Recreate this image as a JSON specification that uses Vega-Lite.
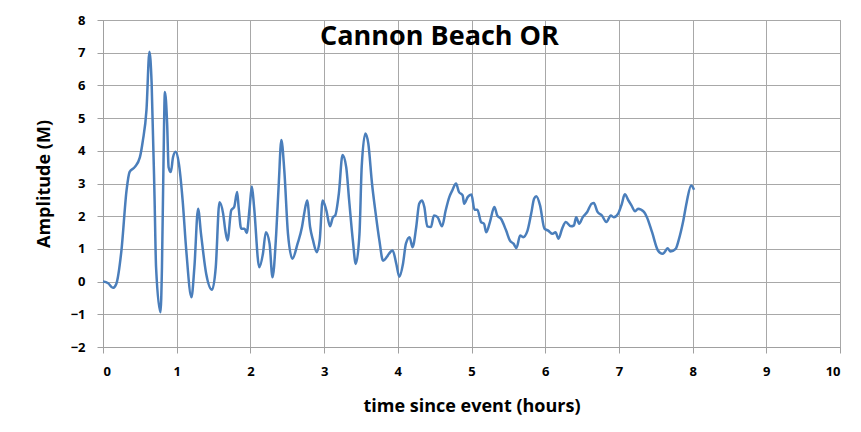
{
  "$schema": "https://vega.github.io/schema/vega-lite/v6.json",
  "width": 737,
  "height": 327,
  "autosize": {"type": "none"},
  "padding": {"left": 103, "top": 20, "right": 21, "bottom": 85},
  "background": "white",
  "title": {
    "text": "Cannon Beach OR",
    "font": "Open Sans",
    "fontSize": 27,
    "fontWeight": "bold",
    "color": "#000000",
    "anchor": "middle",
    "dx": -32,
    "offset": -37,
    "baseline": "top"
  },
  "data": {"values": [
    {"t":0,"a":0},{"t":0.07,"a":-0.05},{"t":0.135,"a":-0.19},{"t":0.18,"a":-0.07},{"t":0.25,"a":0.95},
    {"t":0.32,"a":2.8},{"t":0.36,"a":3.35},{"t":0.43,"a":3.5},{"t":0.5,"a":3.8},{"t":0.54,"a":4.3},
    {"t":0.59,"a":5.25},{"t":0.63,"a":7.03},{"t":0.66,"a":6.06},{"t":0.7,"a":2.5},{"t":0.72,"a":0.44},
    {"t":0.78,"a":-0.94},{"t":0.8,"a":0.44},{"t":0.82,"a":3.5},{"t":0.84,"a":5.8},{"t":0.87,"a":4.84},
    {"t":0.89,"a":3.5},{"t":0.92,"a":3.35},{"t":0.95,"a":3.8},{"t":0.985,"a":3.97},{"t":1.03,"a":3.6},
    {"t":1.08,"a":2.5},{"t":1.13,"a":0.95},{"t":1.2,"a":-0.48},{"t":1.24,"a":0.44},{"t":1.29,"a":2.23},
    {"t":1.33,"a":1.46},{"t":1.4,"a":0.24},{"t":1.48,"a":-0.25},{"t":1.53,"a":0.44},{"t":1.58,"a":2.43},
    {"t":1.63,"a":2.08},{"t":1.66,"a":1.56},{"t":1.69,"a":1.26},{"t":1.74,"a":2.18},{"t":1.78,"a":2.28},
    {"t":1.82,"a":2.74},{"t":1.84,"a":2.28},{"t":1.875,"a":1.62},{"t":1.92,"a":1.62},{"t":1.95,"a":1.49},
    {"t":1.99,"a":2.28},{"t":2.02,"a":2.91},{"t":2.05,"a":2.28},{"t":2.12,"a":0.44},{"t":2.17,"a":0.85},
    {"t":2.21,"a":1.51},{"t":2.26,"a":1.16},{"t":2.3,"a":0.13},{"t":2.35,"a":1.46},{"t":2.385,"a":3.0},
    {"t":2.42,"a":4.33},{"t":2.46,"a":3.4},{"t":2.51,"a":1.46},{"t":2.57,"a":0.7},{"t":2.64,"a":1.16},
    {"t":2.7,"a":1.67},{"t":2.73,"a":2.08},{"t":2.77,"a":2.48},{"t":2.81,"a":1.67},{"t":2.85,"a":1.26},
    {"t":2.9,"a":0.9},{"t":2.94,"a":1.26},{"t":2.98,"a":2.48},{"t":3.03,"a":2.18},{"t":3.08,"a":1.69},
    {"t":3.12,"a":1.97},{"t":3.15,"a":2.02},{"t":3.2,"a":2.69},{"t":3.25,"a":3.87},{"t":3.3,"a":3.5},
    {"t":3.34,"a":2.48},{"t":3.39,"a":1.26},{"t":3.43,"a":0.54},{"t":3.48,"a":1.46},{"t":3.51,"a":3.5},
    {"t":3.56,"a":4.53},{"t":3.6,"a":4.22},{"t":3.65,"a":3.0},{"t":3.7,"a":2.08},{"t":3.75,"a":1.26},
    {"t":3.8,"a":0.64},{"t":3.85,"a":0.75},{"t":3.88,"a":0.85},{"t":3.93,"a":0.95},{"t":3.98,"a":0.54},
    {"t":4.02,"a":0.15},{"t":4.07,"a":0.54},{"t":4.11,"a":1.16},{"t":4.16,"a":1.36},{"t":4.2,"a":1.05},
    {"t":4.25,"a":1.67},{"t":4.29,"a":2.38},{"t":4.33,"a":2.48},{"t":4.36,"a":2.28},{"t":4.4,"a":1.69},
    {"t":4.45,"a":1.67},{"t":4.49,"a":2.02},{"t":4.54,"a":1.97},{"t":4.6,"a":1.69},{"t":4.65,"a":2.18},
    {"t":4.7,"a":2.59},{"t":4.74,"a":2.79},{"t":4.79,"a":3.0},{"t":4.83,"a":2.74},{"t":4.88,"a":2.64},
    {"t":4.9,"a":2.38},{"t":4.95,"a":2.59},{"t":5.0,"a":2.66},{"t":5.04,"a":2.2},{"t":5.08,"a":2.2},
    {"t":5.13,"a":1.82},{"t":5.17,"a":1.77},{"t":5.2,"a":1.51},{"t":5.25,"a":1.82},{"t":5.31,"a":2.28},
    {"t":5.35,"a":2.02},{"t":5.4,"a":1.92},{"t":5.47,"a":1.56},{"t":5.52,"a":1.26},{"t":5.57,"a":1.16},
    {"t":5.61,"a":1.03},{"t":5.66,"a":1.41},{"t":5.7,"a":1.36},{"t":5.76,"a":1.56},{"t":5.81,"a":2.08},
    {"t":5.85,"a":2.54},{"t":5.88,"a":2.61},{"t":5.93,"a":2.33},{"t":5.99,"a":1.62},{"t":6.04,"a":1.56},
    {"t":6.1,"a":1.46},{"t":6.14,"a":1.51},{"t":6.18,"a":1.31},{"t":6.23,"a":1.62},{"t":6.28,"a":1.82},
    {"t":6.35,"a":1.69},{"t":6.39,"a":1.72},{"t":6.42,"a":1.97},{"t":6.46,"a":1.77},{"t":6.51,"a":1.97},
    {"t":6.57,"a":2.13},{"t":6.63,"a":2.38},{"t":6.66,"a":2.4},{"t":6.71,"a":2.13},{"t":6.77,"a":2.02},
    {"t":6.83,"a":1.82},{"t":6.89,"a":2.02},{"t":6.93,"a":1.97},{"t":6.99,"a":2.08},{"t":7.04,"a":2.38},
    {"t":7.08,"a":2.67},{"t":7.13,"a":2.48},{"t":7.17,"a":2.33},{"t":7.22,"a":2.15},{"t":7.26,"a":2.23},
    {"t":7.34,"a":2.13},{"t":7.38,"a":1.97},{"t":7.45,"a":1.51},{"t":7.53,"a":0.95},{"t":7.59,"a":0.85},
    {"t":7.62,"a":0.9},{"t":7.66,"a":1.02},{"t":7.7,"a":0.92},{"t":7.77,"a":1.0},{"t":7.81,"a":1.26},
    {"t":7.87,"a":1.82},{"t":7.92,"a":2.43},{"t":7.98,"a":2.94},{"t":8.02,"a":2.81}
  ]},
  "mark": {"type": "line", "color": "#4a7ebb", "strokeWidth": 2.5, "interpolate": "monotone"},
  "encoding": {
    "x": {
      "field": "t", "type": "quantitative",
      "scale": {"domain": [0, 10], "nice": false},
      "axis": {"values": [0,1,2,3,4,5,6,7,8,9,10], "title": "time since event (hours)", "titlePadding": 19}
    },
    "y": {
      "field": "a", "type": "quantitative",
      "scale": {"domain": [-2, 8], "nice": false},
      "axis": {"values": [-2,-1,0,1,2,3,4,5,6,7,8], "title": "Amplitude (M)", "titlePadding": 17}
    }
  },
  "config": {
    "view": {"stroke": "#a0a0a0", "strokeWidth": 1},
    "axis": {
      "grid": true,
      "gridColor": "#a8a8a8",
      "gridWidth": 1,
      "domainColor": "#a0a0a0",
      "tickColor": "#a0a0a0",
      "tickSize": 6,
      "labelFont": "Open Sans",
      "labelFontSize": 13,
      "labelFontWeight": "bold",
      "labelColor": "#000000",
      "titleFont": "Open Sans",
      "titleFontSize": 18,
      "titleFontWeight": "bold",
      "titleColor": "#000000"
    },
    "axisX": {"labelPadding": 12},
    "axisY": {"labelPadding": 12}
  }
}
